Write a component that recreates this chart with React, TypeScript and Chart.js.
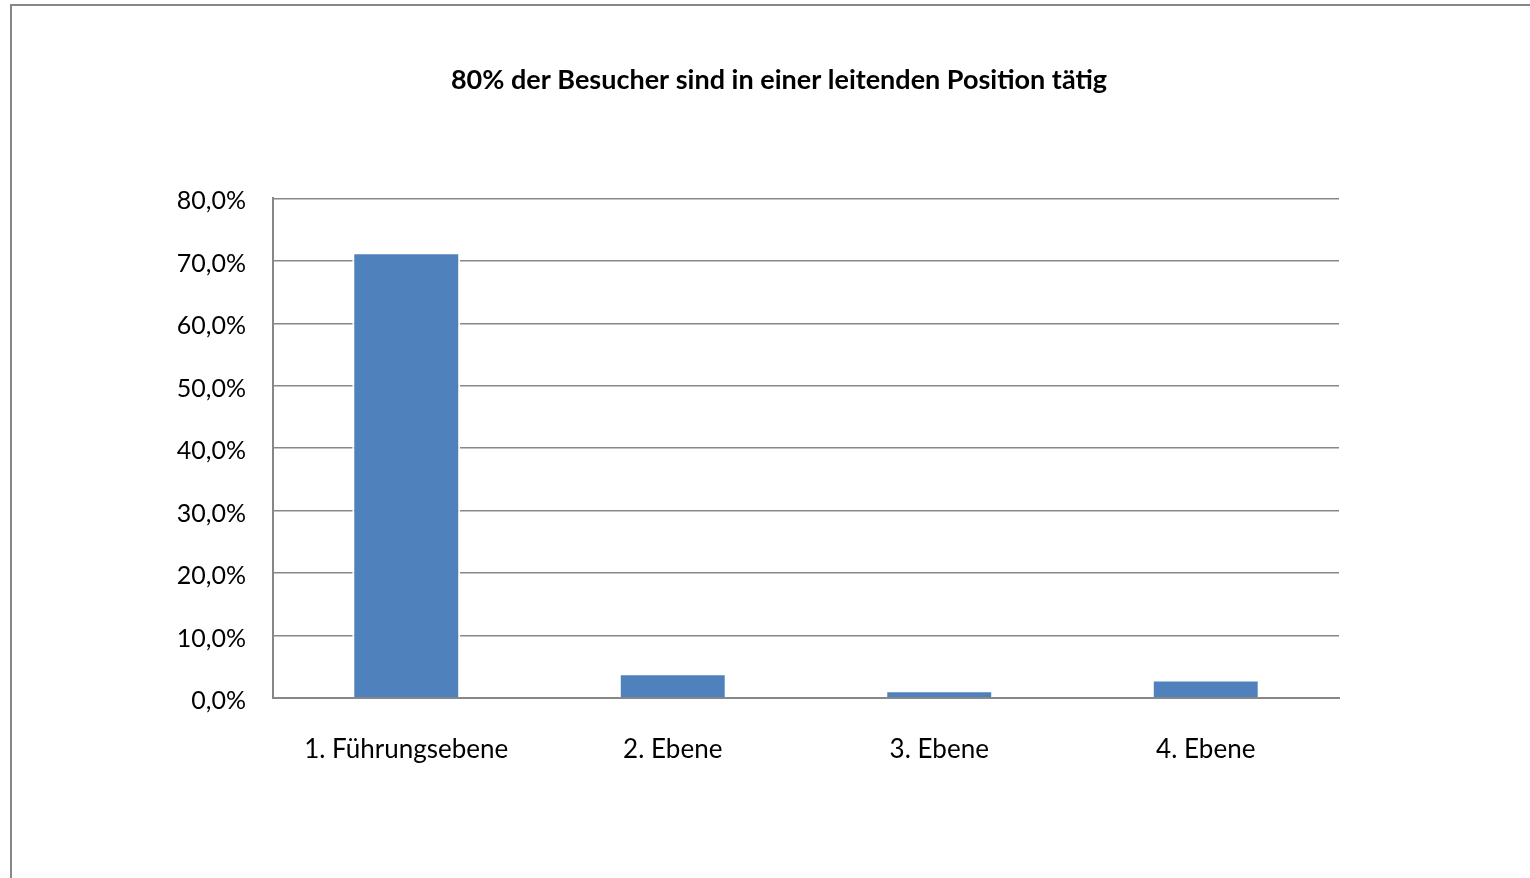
import React, { useEffect, useRef } from "react";
import { Chart, registerables } from "chart.js";

Chart.register(...registerables);

const titleText = "80% der Besucher sind in einer leitenden Position tätig";
const categories = ["1. Führungsebene", "2. Ebene", "3. Ebene", "4. Ebene"];
const shares = [71.2, 3.8, 1.1, 2.8];
const yTicksMax = 80;
const yTickStep = 10;

const GRAY = "#878787";
const FONT = "Lato, 'Open Sans', sans-serif";

const frameBorder = {
  id: "frameBorder",
  beforeDraw(chart: any) {
    const ctx = chart.ctx;
    ctx.save();
    ctx.fillStyle = "#ffffff";
    ctx.fillRect(0, 0, chart.width, chart.height);
    ctx.strokeStyle = GRAY;
    ctx.lineWidth = 2;
    ctx.strokeRect(11, 5, chart.width + 20, chart.height + 20);
    ctx.restore();
  },
};

export default function App() {
  const ref = useRef<HTMLCanvasElement | null>(null);
  useEffect(() => {
    if (!ref.current) return;
    const chart = new Chart(ref.current, {
      type: "bar",
      data: {
        labels: categories,
        datasets: [
          {
            data: shares,
            backgroundColor: "#4F81BD",
            borderColor: "#ffffff",
            borderWidth: { top: 1, left: 2, right: 2, bottom: 0 },
            borderSkipped: false as any,
            categoryPercentage: 1,
            barPercentage: 0.405,
          },
        ],
      },
      options: {
        responsive: false,
        animation: false,
        layout: { padding: { left: 28, right: 0, top: 0, bottom: 0 } },
        plugins: {
          legend: { display: false },
          tooltip: { enabled: false },
          title: {
            display: true,
            text: titleText,
            color: "#000000",
            font: { family: FONT, size: 27, weight: "bold" },
            padding: { top: 64, bottom: 102 },
          },
        },
        scales: {
          x: {
            grid: { display: false, drawTicks: false },
            border: { display: true, color: GRAY, width: 2 },
            ticks: {
              color: "#000000",
              font: { family: FONT, size: 26 },
              padding: 36,
              maxRotation: 0,
            },
            afterFit(scale: any) {
              scale.height = 180;
            },
          },
          y: {
            min: 0,
            max: yTicksMax,
            grid: { color: GRAY, lineWidth: 1.5, drawTicks: false },
            border: { display: true, color: GRAY, width: 2 },
            ticks: {
              stepSize: yTickStep,
              color: "#000000",
              font: { family: FONT, size: 25 },
              padding: 27,
              labelOffset: 3,
              callback: (v: any) => Number(v).toFixed(1).replace(".", ",") + "%",
            },
            afterFit(scale: any) {
              scale.width = 245;
            },
          },
          yRightSpacer: {
            type: "linear",
            position: "right",
            display: true,
            grid: { display: false, drawTicks: false },
            border: { display: false },
            ticks: { display: false },
            afterFit(scale: any) {
              scale.width = 191;
            },
          },
        },
      },
      plugins: [frameBorder],
    });
    return () => chart.destroy();
  }, []);
  return (
    <div style={{ position: "absolute", left: 0, top: 0, width: 1530, height: 878, background: "#fff" }}>
      <canvas ref={ref} width={1530} height={878} style={{ display: "block" }} />
    </div>
  );
}
